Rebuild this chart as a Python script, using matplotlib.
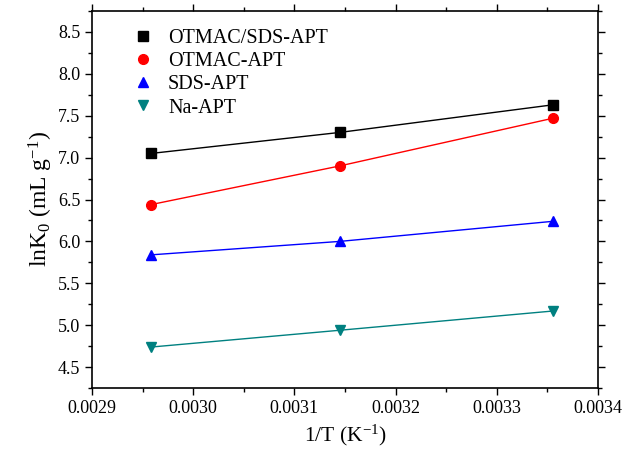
import matplotlib.pyplot as plt
from matplotlib.ticker import MultipleLocator, FormatStrFormatter

plt.rcParams['font.family'] = 'serif'
plt.rcParams['font.serif'] = ['Liberation Serif', 'DejaVu Serif']
plt.rcParams['mathtext.fontset'] = 'custom'
plt.rcParams['mathtext.rm'] = 'Liberation Serif'
plt.rcParams['mathtext.it'] = 'Liberation Serif:italic'

# 1/T для трёх температур
inv_t = [1 / 338, 1 / 318, 1 / 298]

# lnK0 для каждого образца
otmac_sds = [7.05, 7.30, 7.63]
otmac = [6.44, 6.90, 7.47]
sds = [5.84, 6.00, 6.24]
na = [4.74, 4.94, 5.17]

labels = ["OTMAC/SDS-APT", "OTMAC-APT", "SDS-APT", "Na-APT"]
series = [otmac_sds, otmac, sds, na]
colors = ["black", "red", "blue", "#008080"]
markers = ["s", "o", "^", "v"]

fig = plt.figure(figsize=(6.28, 4.55), dpi=100)
ax = fig.add_axes([0.1465, 0.147, 0.8055, 0.829])

for y, lab, c, m in zip(series, labels, colors, markers):
    ax.plot(inv_t, y, '-', color=c, lw=1)
    ax.plot(inv_t, y, m, color=c, ms=7, ls='none', label=lab)

ax.set_xlim(0.0029, 0.0034)
ax.set_ylim(4.25, 8.75)
ax.xaxis.set_major_locator(MultipleLocator(0.0001))
ax.xaxis.set_minor_locator(MultipleLocator(0.00005))
ax.xaxis.set_major_formatter(FormatStrFormatter('%.4f'))
ax.yaxis.set_major_locator(MultipleLocator(0.5))
ax.yaxis.set_minor_locator(MultipleLocator(0.25))
ax.yaxis.set_major_formatter(FormatStrFormatter('%.1f'))

ax.tick_params(which='both', direction='out', top=True, right=True, labelsize=13)
ax.tick_params(which='major', length=5, width=1)
ax.tick_params(which='minor', length=3, width=1)
for s in ax.spines.values():
    s.set_linewidth(1.2)

ax.set_xlabel(r"1/T (K$^{\mathregular{-1}}$)", fontsize=15.5)
ax.set_ylabel(r"lnK$_{\mathregular{0}}$ (mL g$^{\mathregular{-1}}$)", fontsize=17, labelpad=2)

ax.legend(loc='upper left', frameon=False, fontsize=14.5, handletextpad=0.25,
          borderaxespad=0.5, labelspacing=0.2, bbox_to_anchor=(0.025, 1.0))

# подписи делений явно шрифтом с засечками
fig.canvas.draw()
for t in ax.get_xticklabels() + ax.get_yticklabels():
    t.set_fontfamily('Liberation Serif')

fig.savefig("out.png", dpi=100)
